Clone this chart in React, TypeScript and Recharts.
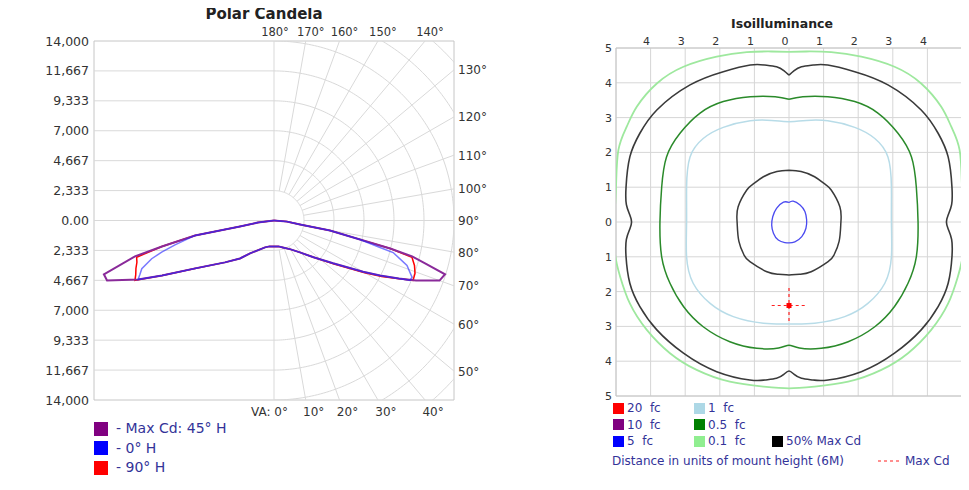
import React from "react";
import { ScatterChart, Scatter, XAxis, YAxis, ReferenceLine, ReferenceArea, CartesianGrid } from "recharts";

const FONT = '"DejaVu Sans", Verdana, Arial, sans-serif';
const NAVY = "#333399";
const GRID = "#d9d9d9";
const BORDER = "#c6c6c6";
const LABEL = "#333333";

// ---------------- Polar Candela ----------------
const CD_MAX = 14000;
const candelaTicks = [-14000, -11666.67, -9333.33, -7000, -4666.67, -2333.33, 0, 2333.33, 4666.67, 7000, 9333.33, 11666.67, 14000];
const candelaTickLabels = ["14,000", "11,667", "9,333", "7,000", "4,667", "2,333", "0.00", "2,333", "4,667", "7,000", "9,333", "11,667", "14,000"];
const arcRadii = [2333.33, 4666.67, 7000, 9333.33, 11666.67, 14000, 16333.33, 18666.67];
const radialAngles = [10, 20, 30, 40, 50, 60, 70, 80, 90, 100, 110, 120, 130, 140, 150, 160, 170];
const topAngleLabels = [180, 170, 160, 150, 140];
const sideAngleLabels = [130, 120, 110, 100, 90, 80, 70, 60, 50];
const bottomAngleLabels = [0, 10, 20, 30, 40];

// [vertical angle (deg), candela]
const maxCd45Left = [
  [0, 2020], [10, 2050], [18.4, 2210], [36, 3170], [41.8, 3970], [49.4, 5020], [58.7, 7190], [63.8, 9700],
  [66.5, 11530], [70.2, 13800], [72.4, 13880], [75.5, 11170], [76.9, 8950], [79.25, 6250], [79.6, 3880],
  [80, 2690], [82.9, 1260], [90, 0],
];
const maxCd45Right = [
  [0, 2020], [10, 2050], [18, 2210], [30, 2600], [39, 3200], [47, 4200], [54, 5680], [60, 8000], [62.5, 9300],
  [65, 10700], [67, 12000], [70, 13700], [72.5, 13950], [74, 12300], [75.4, 11100], [76.4, 9300], [77.5, 6850],
  [79.9, 4420], [81.3, 2050], [85, 1000], [90, 0],
];
const h0Left = [
  [0, 2020], [10, 2050], [18.4, 2210], [36, 3170], [41.8, 3970], [49.4, 5020], [58.7, 7190], [63.8, 9700],
  [66.5, 11530], [68, 11250], [69.9, 10950], [72.6, 9970], [74.2, 9080], [76.1, 7930], [79.25, 6250], [79.6, 3880],
  [80, 2690], [82.9, 1260], [90, 0],
];
const h0Right = [
  [0, 2020], [10, 2050], [18, 2210], [30, 2600], [39, 3200], [47, 4200], [54, 5680], [60, 8000], [62.5, 9300],
  [65, 10700], [66.2, 11560], [67.6, 11610], [71.3, 10920], [74.9, 9600], [75.7, 8510], [77.5, 6850],
  [79.9, 4420], [81.3, 2050], [85, 1000], [90, 0],
];
const h90Left = [
  [0, 2020], [10, 2050], [18.4, 2210], [36, 3170], [41.8, 3970], [49.4, 5020], [58.7, 7190], [63.8, 9700],
  [66.65, 11780], [68.5, 11560], [70.8, 11370], [73, 11150], [75, 11060], [76.9, 8950], [79.25, 6250], [79.6, 3880],
  [80, 2690], [82.9, 1260], [90, 0],
];
const h90Right = [
  [0, 2020], [10, 2050], [18, 2210], [30, 2600], [39, 3200], [47, 4200], [54, 5780], [60, 8150], [62.5, 9450],
  [65, 10750], [66.65, 11780], [69.4, 11715], [72.2, 11475], [75, 11110], [76.4, 9350], [77.5, 6900],
  [79.9, 4420], [81.3, 2050], [85, 1000], [90, 0],
];
const polarLegend = [
  { name: "- Max Cd: 45\u00b0 H", color: "#800080" },
  { name: "- 0\u00b0 H", color: "#0000ff" },
  { name: "- 90\u00b0 H", color: "#ff0000" },
];

// ---------------- Isoilluminance ----------------
const distXTicks = [-4, -3, -2, -1, 0, 1, 2, 3, 4];
const distYTicks = [-5, -4, -3, -2, -1, 0, 1, 2, 3, 4, 5];
// left halves [x, y] in mount heights, from top centre down to bottom centre
const fc01Half = [
  [0, 4.89], [-0.5, 4.9], [-1.22, 4.88], [-2.09, 4.75], [-3.05, 4.46], [-3.82, 3.98], [-4.4, 3.31], [-4.69, 2.74],
  [-4.93, 2.07], [-5.0, 1.01], [-5.05, 0], [-5.03, -0.9], [-4.88, -1.57], [-4.6, -2.34], [-4.11, -3.1],
  [-3.44, -3.77], [-2.67, -4.25], [-1.71, -4.59], [-0.74, -4.73], [0, -4.78],
];
const maxCd50Half = [
  [0, 4.22], [-0.15, 4.35], [-0.36, 4.46], [-0.7, 4.51], [-1.12, 4.51], [-1.9, 4.32], [-2.86, 3.94], [-3.82, 3.22],
  [-4.31, 2.55], [-4.6, 1.87], [-4.71, 1.0], [-4.7, 0.5], [-4.6, 0.2], [-4.55, 0], [-4.6, -0.2], [-4.7, -0.5],
  [-4.71, -1.0], [-4.6, -1.76], [-4.31, -2.43], [-3.82, -3.1], [-3.05, -3.77], [-2.09, -4.3], [-1.13, -4.54],
  [-0.7, -4.54], [-0.36, -4.49], [-0.15, -4.38], [0, -4.28],
];
const fc05Half = [
  [0, 3.53], [-0.4, 3.6], [-1.12, 3.6], [-1.9, 3.46], [-2.57, 3.13], [-3.15, 2.55], [-3.54, 1.87], [-3.68, 1.0],
  [-3.73, 0], [-3.68, -1.0], [-3.44, -1.76], [-3.05, -2.43], [-2.48, -3.01], [-1.71, -3.44], [-0.93, -3.63],
  [-0.3, -3.62], [0, -3.54],
];
const fc1Half = [
  [0, 2.88], [-0.5, 2.92], [-1.12, 2.91], [-1.9, 2.72], [-2.48, 2.4], [-2.86, 1.87], [-2.96, 1.0], [-2.96, 0],
  [-2.96, -1.0], [-2.77, -1.76], [-2.28, -2.34], [-1.61, -2.72], [-0.74, -2.91], [0, -2.93],
];
const innerBlackHalf = [
  [0, 1.49], [-0.35, 1.45], [-0.74, 1.3], [-1.05, 1.08], [-1.22, 0.92], [-1.47, 0.44], [-1.5, 0], [-1.45, -0.55],
  [-1.3, -0.95], [-1.13, -1.14], [-0.64, -1.43], [-0.3, -1.5], [0, -1.52],
];
const fc5Loop = [
  [0, 0.56], [0.12, 0.6], [0.32, 0.49], [0.46, 0.3], [0.51, 0.06], [0.49, -0.18], [0.37, -0.42], [0.17, -0.57],
  [0, -0.6], [-0.12, -0.59], [-0.31, -0.52], [-0.45, -0.32], [-0.5, -0.09], [-0.47, 0.15], [-0.36, 0.39],
  [-0.16, 0.57], [0, 0.56],
];
const maxCdPoint = { x: 0, y: -2.4 };
const isoLegendCols = [
  [{ name: "20  fc", color: "#ff0000" }, { name: "10  fc", color: "#800080" }, { name: "5  fc", color: "#0000ff" }],
  [{ name: "1  fc", color: "#add8e6" }, { name: "0.5  fc", color: "#008000" }, { name: "0.1  fc", color: "#90ee90" }],
  [{ name: "", color: "" }, { name: "", color: "" }, { name: "50% Max Cd", color: "#000000" }],
];

// ---------------- helpers ----------------
const rad = (d: number) => (d * Math.PI) / 180;
const polarToXY = (pairs: number[][], side: number) =>
  pairs.map(([a, cd]) => ({ x: side * cd * Math.sin(rad(a)), y: -cd * Math.cos(rad(a)) }));
const edgeRadius = (a: number) => CD_MAX / Math.max(Math.abs(Math.sin(rad(a))), Math.abs(Math.cos(rad(a))));
const arcAngles: number[] = [];
for (let a = 0; a <= 180; a += 1) arcAngles.push(a);
const arcData = arcRadii.map((r) =>
  arcAngles.map((a) => ({ x: r * Math.sin(rad(a)), y: -r * Math.cos(rad(a)) }))
);
const radialData = radialAngles.map((a) => {
  const r0 = arcRadii[0];
  const r1 = edgeRadius(a);
  return [
    { x: r0 * Math.sin(rad(a)), y: -r0 * Math.cos(rad(a)) },
    { x: r1 * Math.sin(rad(a)), y: -r1 * Math.cos(rad(a)) },
  ];
});
const angleLabelData = [
  ...topAngleLabels.map((a) => ({ a, pos: "top" })),
  ...sideAngleLabels.map((a) => ({ a, pos: "right" })),
  ...bottomAngleLabels.map((a) => ({ a, pos: "bottom" })),
].map((d) => {
  const r = edgeRadius(d.a);
  return { x: r * Math.sin(rad(d.a)), y: -r * Math.cos(rad(d.a)), a: d.a, pos: d.pos };
});

const closeMirror = (half: number[][]) => {
  const left = half.map(([x, y]) => ({ x, y }));
  const right = half.slice().reverse().slice(1).map(([x, y]) => ({ x: -x, y }));
  return [...left, ...right];
};
const loop = (pts: number[][]) => pts.map(([x, y]) => ({ x, y }));

const NoDot = () => <g />;

const AngleLabel = (props: any) => {
  const { cx, cy, payload } = props;
  const txt = payload.a === 0 ? "VA: 0\u00b0" : `${payload.a}\u00b0`;
  const common = { fontFamily: FONT, fill: LABEL };
  if (payload.pos === "top")
    return <text x={cx + (payload.a === 180 ? 1 : 5)} y={cy - 5} textAnchor="middle" fontSize={11.5} {...common}>{txt}</text>;
  if (payload.pos === "right")
    return <text x={cx + 4} y={cy + 4.5} textAnchor="start" fontSize={12} {...common}>{txt}</text>;
  if (payload.a === 0)
    return <text x={cx + 14} y={cy + 16} textAnchor="end" fontSize={12} {...common}>{txt}</text>;
  return <text x={cx + 8} y={cy + 16} textAnchor="middle" fontSize={12} {...common}>{txt}</text>;
};

const CandelaTick = (props: any) => {
  const { x, y, index } = props;
  return (
    <text x={x} y={y + 4.5} textAnchor="end" fontFamily={FONT} fontSize={12.5} fill={LABEL}>
      {candelaTickLabels[index]}
    </text>
  );
};

const DistYTick = (props: any) => {
  const { x, y, payload } = props;
  return (
    <text x={x} y={y + 4} textAnchor="end" fontFamily={FONT} fontSize={11} fill={LABEL}>
      {Math.abs(payload.value)}
    </text>
  );
};
const DistXTick = (props: any) => {
  const { x, y, payload } = props;
  return (
    <text x={x - 4} y={y - 1} textAnchor="middle" fontFamily={FONT} fontSize={11} fill={LABEL}>
      {Math.abs(payload.value)}
    </text>
  );
};

const MaxCdMarker = (props: any) => {
  const { cx, cy } = props;
  return <rect x={cx - 2.5} y={cy - 2.5} width={5} height={5} fill="#ff0000" />;
};

const at = (x: number, y: number): React.CSSProperties => ({ position: "absolute", left: x - 8, top: y - 8 });

function PolarCandela() {
  return (
    <div style={at(0, 0)}>
      <ScatterChart width={500} height={480} margin={{ top: 41, right: 46, bottom: 80, left: 0 }}>
        <XAxis type="number" dataKey="x" domain={[-CD_MAX, CD_MAX]} allowDataOverflow hide />
        <YAxis
          type="number"
          dataKey="y"
          domain={[-CD_MAX, CD_MAX]}
          allowDataOverflow
          ticks={candelaTicks}
          interval={0}
          width={94}
          axisLine={false}
          tickLine={false}
          tickSize={0}
          tickMargin={5}
          tick={<CandelaTick />}
        />
        <XAxis xAxisId="lab" type="number" dataKey="x" domain={[-CD_MAX, CD_MAX]} hide />
        <YAxis yAxisId="lab" type="number" dataKey="y" domain={[-CD_MAX, CD_MAX]} hide />
        {candelaTicks.slice(1, -1).map((t, i) => (
          <ReferenceLine
            key={`h${i}`}
            segment={[{ x: -CD_MAX, y: t }, { x: 0, y: t }]}
            stroke={GRID}
            strokeWidth={1}
            ifOverflow="visible"
          />
        ))}
        <ReferenceLine x={0} stroke={GRID} strokeWidth={1} />
        {arcData.map((d, i) => (
          <Scatter key={`arc${i}`} data={d} line={{ stroke: GRID, strokeWidth: 1 }} shape={NoDot} fill={GRID} isAnimationActive={false} />
        ))}
        {radialData.map((d, i) => (
          <Scatter key={`rad${i}`} data={d} line={{ stroke: GRID, strokeWidth: 1 }} shape={NoDot} fill={GRID} isAnimationActive={false} />
        ))}
        <ReferenceArea x1={-CD_MAX} x2={CD_MAX} y1={-CD_MAX} y2={CD_MAX} fill="none" stroke={BORDER} strokeWidth={1} />
        <Scatter data={polarToXY(h90Left, -1)} line={{ stroke: "#ff0000", strokeWidth: 1.5 }} shape={NoDot} fill="#ff0000" isAnimationActive={false} />
        <Scatter data={polarToXY(h90Right, 1)} line={{ stroke: "#ff0000", strokeWidth: 1.5 }} shape={NoDot} fill="#ff0000" isAnimationActive={false} />
        <Scatter data={polarToXY(maxCd45Left, -1)} line={{ stroke: "#8a2a9a", strokeWidth: 2 }} shape={NoDot} fill="#800080" isAnimationActive={false} />
        <Scatter data={polarToXY(maxCd45Right, 1)} line={{ stroke: "#8a2a9a", strokeWidth: 2 }} shape={NoDot} fill="#800080" isAnimationActive={false} />
        <Scatter data={polarToXY(h0Left, -1)} line={{ stroke: "#2020ff", strokeWidth: 1.5, strokeOpacity: 0.6 }} shape={NoDot} fill="#0000ff" isAnimationActive={false} />
        <Scatter data={polarToXY(h0Right, 1)} line={{ stroke: "#2020ff", strokeWidth: 1.5, strokeOpacity: 0.6 }} shape={NoDot} fill="#0000ff" isAnimationActive={false} />
        <Scatter xAxisId="lab" yAxisId="lab" data={angleLabelData} shape={AngleLabel} fill={LABEL} isAnimationActive={false} />
      </ScatterChart>
    </div>
  );
}

function Isoilluminance() {
  const contour = (pts: any[], color: string, w: number, key: string) => (
    <Scatter
      key={key}
      data={pts}
      line={{ stroke: color, strokeWidth: w }}
      lineJointType="natural"
      shape={NoDot}
      fill={color}
      isAnimationActive={false}
    />
  );
  return (
    <div style={at(590, 0)}>
      <ScatterChart width={379} height={490} margin={{ top: 30, right: 7, bottom: 94, left: 0 }}>
        <XAxis
          type="number"
          dataKey="x"
          orientation="top"
          domain={[-5, 5]}
          allowDataOverflow
          ticks={distXTicks}
          interval={0}
          height={18}
          axisLine={false}
          tickLine={false}
          tickSize={0}
          tickMargin={2}
          tick={<DistXTick />}
        />
        <YAxis
          type="number"
          dataKey="y"
          domain={[-5, 5]}
          allowDataOverflow
          ticks={distYTicks}
          interval={0}
          width={26}
          axisLine={false}
          tickLine={false}
          tickSize={0}
          tickMargin={4}
          tick={<DistYTick />}
        />
        <CartesianGrid stroke="#d6d6d6" strokeWidth={1} />
        <ReferenceArea x1={-5} x2={5} y1={-5} y2={5} fill="none" stroke={BORDER} strokeWidth={1} />
        {contour(closeMirror(fc01Half), "#9ee89e", 1.8, "c01")}
        {contour(closeMirror(maxCd50Half), "#3a3a3a", 1.6, "c50")}
        {contour(closeMirror(fc05Half), "#2a8a2a", 1.5, "c05")}
        {contour(closeMirror(fc1Half), "#b8dce8", 1.5, "c1")}
        {contour(closeMirror(innerBlackHalf), "#3a3a3a", 1.5, "cin")}
        {contour(loop(fc5Loop), "#4a4af0", 1.3, "c5")}
        <ReferenceLine
          segment={[{ x: maxCdPoint.x - 0.5, y: maxCdPoint.y }, { x: maxCdPoint.x + 0.5, y: maxCdPoint.y }]}
          stroke="#ff2020"
          strokeWidth={1.2}
          strokeDasharray="3 3"
        />
        <ReferenceLine
          segment={[{ x: maxCdPoint.x, y: maxCdPoint.y + 0.5 }, { x: maxCdPoint.x, y: maxCdPoint.y - 0.5 }]}
          stroke="#ff2020"
          strokeWidth={1.2}
          strokeDasharray="3 3"
        />
        <Scatter data={[maxCdPoint]} shape={MaxCdMarker} fill="#ff0000" isAnimationActive={false} />
      </ScatterChart>
    </div>
  );
}

export default function App() {
  return (
    <div style={{ position: "relative", width: 953, height: 474, background: "#fff", fontFamily: FONT }}>
      <PolarCandela />
      <Isoilluminance />
      <div style={{ ...at(164, 5), width: 200, textAlign: "center", fontWeight: "bold", fontSize: 15, lineHeight: "18px", color: "#222" }}>
        Polar Candela
      </div>
      <div style={{ ...at(682, 16), width: 200, textAlign: "center", fontWeight: "bold", fontSize: 12.5, lineHeight: "16px", color: "#222" }}>
        Isoilluminance
      </div>
      {polarLegend.map((l, i) => (
        <div key={l.name} style={{ ...at(94, 421 + i * 19.5), display: "flex", alignItems: "center", height: 15 }}>
          <div style={{ width: 14, height: 14, background: l.color }} />
          <div style={{ marginLeft: 8, fontSize: 14, lineHeight: "15px", color: NAVY, whiteSpace: "pre" }}>{l.name}</div>
        </div>
      ))}
      {isoLegendCols.map((col, ci) =>
        col.map((l, ri) =>
          l.name ? (
            <div key={`${ci}-${ri}`} style={{ ...at([613, 694, 772][ci], 402 + ri * 16.5), display: "flex", alignItems: "center", height: 12 }}>
              <div style={{ width: 11, height: 11, background: l.color }} />
              <div style={{ marginLeft: 3, fontSize: 12, lineHeight: "12px", color: NAVY, whiteSpace: "pre" }}>{l.name}</div>
            </div>
          ) : null
        )
      )}
      <div style={{ ...at(612, 454), fontSize: 12, lineHeight: "14px", color: NAVY, whiteSpace: "pre" }}>
        Distance in units of mount height (6M)
      </div>
      <div style={{ ...at(878, 454), display: "flex", alignItems: "center", height: 14 }}>
        <svg width={22} height={4}>
          <line x1={0} y1={2} x2={22} y2={2} stroke="#ff2020" strokeWidth={1.2} strokeDasharray="3 3" />
        </svg>
        <div style={{ marginLeft: 5, fontSize: 12, lineHeight: "14px", color: NAVY }}>Max Cd</div>
      </div>
    </div>
  );
}
